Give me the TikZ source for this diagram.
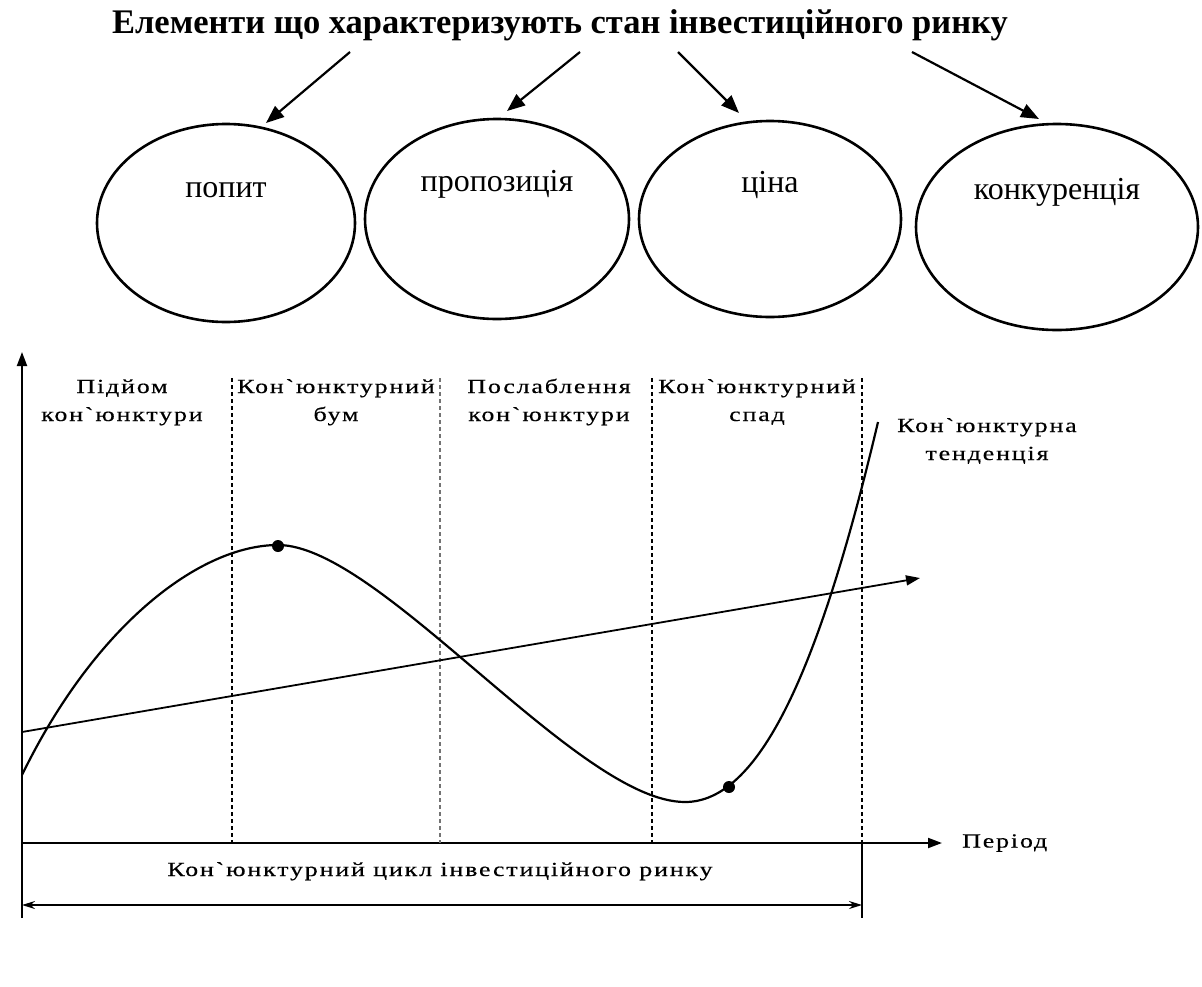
\documentclass[tikz,border=0pt]{standalone}
\usepackage{fontspec}
\setmainfont{Liberation Serif}
\newfontfamily\chartfont[Ligatures=TeXOff,FakeStretch=1.3,LetterSpace=9,FakeBold=0.4]{Liberation Serif}
\usetikzlibrary{arrows.meta,shapes.geometric}
\begin{document}
\begin{tikzpicture}[x=1pt,y=-1pt,
  titlestyle/.style={font=\fontsize{34.5}{40}\selectfont\bfseries, anchor=base},
  oval/.style={draw, ellipse, line width=2.6pt, inner sep=0pt},
  ovaltext/.style={font=\fontsize{32}{40}\selectfont, anchor=base},
  chartlbl/.style={font=\chartfont\fontsize{20}{28}\selectfont, align=center, anchor=base, inner sep=0pt},
  bigarrow/.style={line width=2.2pt, -{Triangle[length=18pt,width=14pt]}},
  axisarrow/.style={line width=2pt, -{Triangle[length=14pt,width=10pt]}},
  divider/.style={line width=1.8pt, dash pattern=on 4pt off 3pt},
  lightdivider/.style={line width=1.8pt, dash pattern=on 4pt off 3pt, black!55},
  plain/.style={line width=2pt},
  dot/.style={circle, fill=black, inner sep=0pt, minimum size=12pt}
]
\useasboundingbox (0,0) rectangle (1202,986);

% title
\node[titlestyle] (title) at (560,33) {Елементи що характеризують стан інвестиційного ринку};

% ellipses
\node[oval, minimum width=258pt, minimum height=198pt] (e1) at (226,223) {};
\node[oval, minimum width=264pt, minimum height=200pt] (e2) at (497,219) {};
\node[oval, minimum width=262pt, minimum height=196pt] (e3) at (770,219) {};
\node[oval, minimum width=282pt, minimum height=206pt] (e4) at (1057,227) {};
\node[ovaltext] (l1) at (226,197) {попит};
\node[ovaltext] (l2) at (497,191) {пропозиція};
\node[ovaltext] (l3) at (770,192) {ціна};
\node[ovaltext] (l4) at (1057,199) {конкуренція};

% arrows from title
\coordinate (s1) at (350,52);  \coordinate (a1) at (266,123);
\coordinate (s2) at (580,52);  \coordinate (a2) at (507,111);
\coordinate (s3) at (678,52);  \coordinate (a3) at (739,113);
\coordinate (s4) at (912,52);  \coordinate (a4) at (1039,119);
\draw[bigarrow] (s1) -- (a1);
\draw[bigarrow] (s2) -- (a2);
\draw[bigarrow] (s3) -- (a3);
\draw[bigarrow] (s4) -- (a4);

% chart axes
\coordinate (o) at (22,843);
\coordinate (ybot) at (22,918);
\coordinate (ytop) at (22,352);
\coordinate (xend) at (942,843);
\draw[axisarrow] (ybot) -- (ytop);
\draw[axisarrow] (o) -- (xend);
\node[chartlbl, anchor=west] (period) at (962,843) {Період};

% dividers
\coordinate (d1t) at (232,378); \coordinate (d1b) at (232,843);
\coordinate (d2t) at (440,378); \coordinate (d2b) at (440,843);
\coordinate (d3t) at (652,378); \coordinate (d3b) at (652,843);
\coordinate (d4t) at (862,378); \coordinate (d4b) at (862,843);
\coordinate (d4e) at (862,918);
\draw[divider] (d1t) -- (d1b);
\draw[lightdivider] (d2t) -- (d2b);
\draw[divider] (d3t) -- (d3b);
\draw[divider] (d4t) -- (d4b);
\draw[plain] (d4b) -- (d4e);

% phase labels (anchor = baseline of last line)
\node[chartlbl] (p1) at (122,421) {Підйом\\кон`юнктури};
\node[chartlbl] (p2) at (336,421) {Кон`юнктурний\\бум};
\node[chartlbl] (p3) at (549,421) {Послаблення\\кон`юнктури};
\node[chartlbl] (p4) at (757,421) {Кон`юнктурний\\спад};
\node[chartlbl] (p5) at (987,460) {Кон`юнктурна\\тенденція};

% trend line
\coordinate (tr0) at (22,732);
\coordinate (tr1) at (920,578);
\draw[axisarrow, line width=1.8pt] (tr0) -- (tr1);

% cycle curve
\coordinate (c-start) at (22,775);
\coordinate (c-peak) at (278,545);
\coordinate (c-low) at (685,802);
\coordinate (c-end) at (878,422);
\draw[plain, line width=2.2pt] (c-start)
  .. controls (95,625) and (200,545) .. (c-peak)
  .. controls (380,545) and (578,802) .. (c-low)
  .. controls (758,802) and (818,676) .. (c-end);
\node[dot] (peak) at (278,546) {};
\node[dot] (trough) at (729,787) {};

% cycle span
\coordinate (c0) at (22,905);
\coordinate (c1) at (862,905);
\draw[line width=1.6pt, {Stealth[length=13pt,width=8pt]}-{Stealth[length=13pt,width=8pt]}] (c0) -- (c1);
\node[chartlbl] (cyc) at (440,876) {Кон`юнктурний цикл інвестиційного ринку};
\end{tikzpicture}
\end{document}
